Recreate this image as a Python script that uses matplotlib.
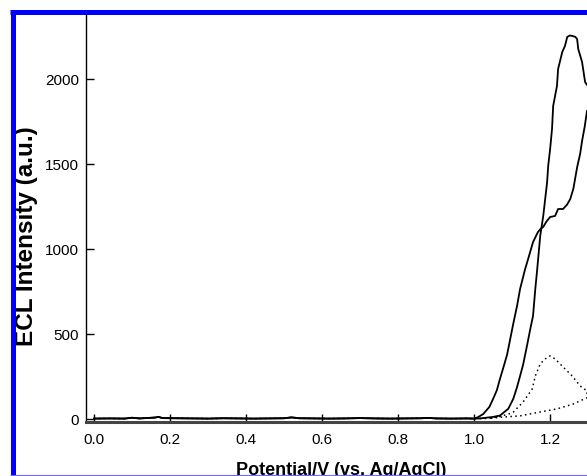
import matplotlib.pyplot as plt
from matplotlib.lines import Line2D

plt.rcParams["font.family"] = ["Liberation Sans", "DejaVu Sans"]

# flat region before onset (shared by all scans)
base_v = [0.00, 0.04, 0.08, 0.10, 0.12, 0.16, 0.17, 0.18, 0.22, 0.26, 0.30,
          0.34, 0.38, 0.42, 0.46, 0.50, 0.52, 0.54, 0.58, 0.62, 0.66, 0.70,
          0.74, 0.78, 0.82, 0.86, 0.88, 0.90, 0.94, 0.98, 1.00]
base_i = [2, 3, 2, 7, 3, 8, 12, 5, 4, 3, 2,
          4, 3, 2, 3, 4, 9, 4, 3, 2, 3, 5,
          3, 2, 3, 4, 6, 3, 2, 3, 2]

# solid scan with shoulder near 1.17 V
a_v = [1.010, 1.024, 1.040, 1.050, 1.060, 1.068, 1.078, 1.087, 1.095, 1.103,
       1.113, 1.121, 1.134, 1.142, 1.155, 1.168, 1.175, 1.182, 1.190, 1.200,
       1.213, 1.221, 1.234, 1.245, 1.253, 1.261, 1.271, 1.279, 1.284, 1.291,
       1.297]
a_i = [10, 29, 70, 118, 170, 235, 310, 380, 470, 560,
       665, 765, 880, 940, 1040, 1100, 1118, 1130, 1160, 1188,
       1194, 1235, 1235, 1262, 1294, 1353, 1480, 1560, 1635, 1720,
       1812]

# solid scan with peak near 1.25 V
b_v = [1.016, 1.035, 1.050, 1.068, 1.090, 1.103, 1.112, 1.121, 1.129, 1.139,
       1.147, 1.155, 1.161, 1.166, 1.170, 1.174, 1.182, 1.187, 1.192, 1.195,
       1.200, 1.205, 1.208, 1.218, 1.221, 1.232, 1.239, 1.245, 1.252, 1.258,
       1.266, 1.271, 1.274, 1.284, 1.292, 1.297]
b_i = [3, 8, 12, 20, 60, 118, 180, 253, 320, 429,
       520, 606, 765, 880, 980, 1078, 1196, 1294, 1392, 1490,
       1588, 1706, 1841, 1959, 2059, 2159, 2194, 2247, 2256, 2253,
       2248, 2235, 2176, 2100, 1982, 1965]

# dotted scan, forward and return branches
c_fwd_v = [1.040, 1.068, 1.090, 1.103, 1.129, 1.153, 1.161, 1.174, 1.187, 1.200,
           1.213, 1.234, 1.258, 1.279, 1.297]
c_fwd_i = [3, 15, 28, 40, 100, 176, 253, 324, 353, 371,
           353, 306, 253, 194, 165]
c_ret_v = [1.040, 1.068, 1.121, 1.174, 1.218, 1.261, 1.297]
c_ret_i = [3, 10, 18, 41, 59, 88, 125]

W, H = 587, 477
fig = plt.figure(figsize=(W / 100, H / 100), dpi=100)
ax = fig.add_axes([86 / W, (H - 423) / H, (W - 86) / W, (423 - 14) / H])

ax.plot(base_v + a_v, base_i + a_i, color="black", lw=1.3)
ax.plot(base_v + b_v, base_i + b_i, color="black", lw=1.3)
ax.plot(base_v + c_fwd_v + c_ret_v[::-1], base_i + c_fwd_i + c_ret_i[::-1],
        color="black", lw=1.1, linestyle=(0, (1, 2.2)))

ax.set_xlim(-0.021, 1.297)
ax.set_ylim(-18, 2388)
ax.set_xticks([0.0, 0.2, 0.4, 0.6, 0.8, 1.0, 1.2])
ax.set_xticklabels(["0.0", "0.2", "0.4", "0.6", "0.8", "1.0", "1.2"])
ax.set_yticks([0, 500, 1000, 1500, 2000])

ax.spines["top"].set_visible(False)
ax.spines["right"].set_visible(False)
ax.spines["bottom"].set_linewidth(2.2)
ax.spines["bottom"].set_color("#444444")
ax.spines["left"].set_linewidth(1.0)
ax.tick_params(axis="x", direction="in", length=6, width=1, pad=7,
               labelsize=11, colors="black")
ax.tick_params(axis="y", direction="in", length=6, width=1, pad=5,
               labelsize=11, colors="black")

fig.text(341 / W, (H - 475) / H, "Potential/V (vs. Ag/AgCl)",
         fontsize=13, fontweight="bold", ha="center", va="baseline")
fig.text(26.5 / W, (H - 236) / H, "ECL Intensity (a.u.)", rotation=90,
         fontsize=17.5, fontweight="bold", ha="center", va="center")

# blue frame along the top and left edges
fig.add_artist(Line2D([10 / W, 1], [(H - 12.5) / H] * 2, color="#0000ff",
                      lw=3.6, solid_capstyle="butt",
                      transform=fig.transFigure, zorder=10))
fig.add_artist(Line2D([12.5 / W] * 2, [0, (H - 12.5) / H], color="#0000ff",
                      lw=3.6, solid_capstyle="butt",
                      transform=fig.transFigure, zorder=10))
fig.add_artist(Line2D([10 / W, 1], [0.6 / H] * 2, color="#6b6bff",
                      lw=0.8, solid_capstyle="butt",
                      transform=fig.transFigure, zorder=10))

fig.savefig("out.png", dpi=100)
